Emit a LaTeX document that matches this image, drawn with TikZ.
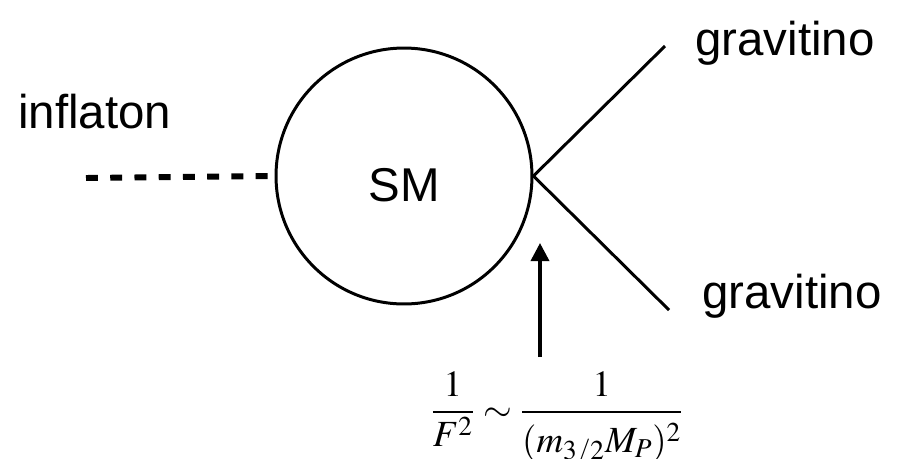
\documentclass[tikz,border=0pt]{standalone}
\usepackage{mathptmx}
\usepackage{fontspec}
\setsansfont{Liberation Sans}
\usetikzlibrary{arrows.meta, positioning}

\begin{document}
\begin{tikzpicture}[
      x=0.02cm, y=-0.02cm,
      label_text/.style={font=\sffamily\fontsize{27}{32}\selectfont, inner sep=0pt},
      blob/.style={circle, draw, line width=1.7pt, minimum size=5.12cm, inner sep=0pt, font=\sffamily\fontsize{27}{32}\selectfont, text height=1.02cm, text depth=0pt},
      scalar_line/.style={draw, line width=3.4pt, dash pattern=on 6.8pt off 7pt},
      fermion_line/.style={draw, line width=1.7pt},
      line/.style={draw, line width=2pt, -{Triangle[width=0.36cm, length=0.36cm]}}
  ]
  \useasboundingbox (0,0) rectangle (897,458);

  \node [blob] (sm) at (404,176) {SM};
  \node [label_text, anchor=base west] (inflaton) at (18,128) {inflaton};
  \node [label_text, anchor=base west] (grav1) at (695,55) {gravitino};
  \node [label_text, anchor=base west] (grav2) at (702,308) {gravitino};
  \node [font=\fontsize{21}{25}\selectfont, inner sep=0pt] (coupling) at (557,419) {$\displaystyle \frac{1}{F^2} \sim \frac{1}{\vrule width 0pt height 0.95em (m_{3/2}M_P)^2}$};

  \coordinate (dash_start) at (86,178);
  \coordinate (grav1_end) at (665,46);
  \coordinate (grav2_end) at (669,310);
  \coordinate (arrow_base) at (540,357);
  \coordinate (arrow_tip) at (540,243);

  \path [scalar_line] (dash_start) -- (sm.west);
  \path [fermion_line] (sm.east) -- (grav1_end);
  \path [fermion_line] (sm.east) -- (grav2_end);
  \path [line] (arrow_base) -- (arrow_tip);
\end{tikzpicture}
\end{document}
